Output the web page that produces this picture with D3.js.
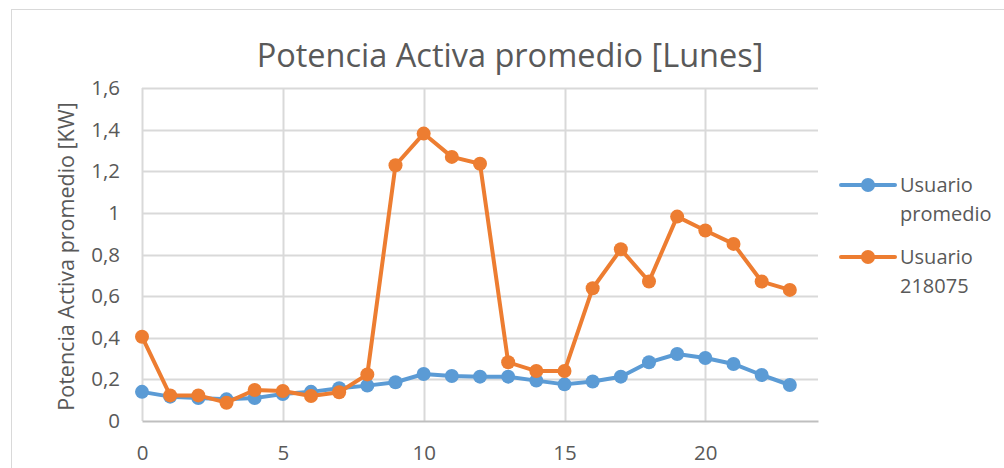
<!DOCTYPE html>
<html>
<head>
<meta charset="utf-8">
<script src="https://cdn.jsdelivr.net/npm/d3@7"></script>
<style>
  body { margin: 0; background: #fff; }
  text { font-family: "Open Sans", sans-serif; fill: #595959; }
</style>
</head>
<body>
<div id="chart"></div>
<script>
// hours of the day (0-23)
const hours = d3.range(0, 24);

const usuarioPromedio = [0.14, 0.117, 0.11, 0.104, 0.11, 0.13, 0.14, 0.157, 0.17, 0.186,
    0.226, 0.216, 0.213, 0.213, 0.194, 0.176, 0.19, 0.213, 0.282, 0.322,
    0.303, 0.274, 0.221, 0.173];

const usuario218075 = [0.405, 0.123, 0.123, 0.088, 0.149, 0.144, 0.12, 0.138, 0.224, 1.229,
    1.381, 1.269, 1.236, 0.282, 0.24, 0.24, 0.638, 0.825, 0.67, 0.982,
    0.915, 0.851, 0.67, 0.63];

const xTicks = [0, 5, 10, 15, 20];
const yTicks = [0, 0.2, 0.4, 0.6, 0.8, 1, 1.2, 1.4, 1.6];

const seriesList = [
    { name: ['Usuario', 'promedio'], values: usuarioPromedio, color: '#5B9BD5' },
    { name: ['Usuario', '218075'], values: usuario218075, color: '#ED7D31' }
];

const width = 1004, height = 468;
const plot = { left: 142, right: 818, top: 88, bottom: 421 };

const svg = d3.select('#chart').append('svg')
    .attr('width', width)
    .attr('height', height);

// chart frame
svg.append('rect')
    .attr('x', 11.5).attr('y', 9.5)
    .attr('width', 1100).attr('height', 600)
    .attr('fill', 'none')
    .attr('stroke', '#D9D9D9');

const x = d3.scaleLinear().domain([0, 24]).range([plot.left, plot.right]);
const y = d3.scaleLinear().domain([0, 1.6]).range([plot.bottom, plot.top]);

// gridlines
svg.append('g')
    .selectAll('line')
    .data(yTicks.filter(d => d > 0))
    .join('line')
    .attr('x1', plot.left).attr('x2', plot.right)
    .attr('y1', d => Math.round(y(d)) + 0.5).attr('y2', d => Math.round(y(d)) + 0.5)
    .attr('stroke', '#D9D9D9').attr('stroke-width', 2);

svg.append('g')
    .selectAll('line')
    .data(xTicks)
    .join('line')
    .attr('x1', d => Math.round(x(d)) + 0.5).attr('x2', d => Math.round(x(d)) + 0.5)
    .attr('y1', plot.top).attr('y2', plot.bottom)
    .attr('stroke', '#D9D9D9').attr('stroke-width', 2);

// x axis
const xAxis = svg.append('g')
    .attr('transform', `translate(0,${plot.bottom})`)
    .call(d3.axisBottom(x).tickValues(xTicks).tickSize(0).tickPadding(24));
xAxis.select('.domain').attr('stroke', '#BFBFBF').attr('stroke-width', 2);
xAxis.selectAll('text').style('font-size', '20.5px').attr('fill', '#595959');

// y axis
const yAxis = svg.append('g')
    .attr('transform', `translate(${plot.left},0)`)
    .call(d3.axisLeft(y).tickValues(yTicks).tickSize(0).tickPadding(22)
        .tickFormat(d => String(d).replace('.', ',')));
yAxis.select('.domain').remove();
yAxis.selectAll('text').style('font-size', '20.5px').attr('fill', '#595959');

// title
svg.append('text')
    .attr('x', 510).attr('y', 67)
    .attr('text-anchor', 'middle')
    .style('font-size', '32.5px')
    .text('Potencia Activa promedio [Lunes]');

// y label
svg.append('text')
    .attr('transform', `translate(74,${(plot.top + plot.bottom) / 2 + 2}) rotate(-90)`)
    .attr('text-anchor', 'middle')
    .style('font-size', '21.5px')
    .text('Potencia Activa promedio [KW]');

// series
const line = d3.line()
    .x((d, i) => x(hours[i]))
    .y(d => y(d));

seriesList.forEach(s => {
    const g = svg.append('g');
    g.append('path')
        .datum(s.values)
        .attr('d', line)
        .attr('fill', 'none')
        .attr('stroke', s.color)
        .attr('stroke-width', 4)
        .attr('stroke-linejoin', 'round');
    g.selectAll('circle')
        .data(s.values)
        .join('circle')
        .attr('cx', (d, i) => x(hours[i]))
        .attr('cy', d => y(d))
        .attr('r', 7)
        .attr('fill', s.color);
});

// legend
const legend = svg.append('g');
seriesList.forEach((s, i) => {
    const ly = 185 + i * 72;
    const item = legend.append('g').attr('transform', `translate(0,${ly})`);
    item.append('line')
        .attr('x1', 841).attr('x2', 895)
        .attr('stroke', s.color).attr('stroke-width', 4)
        .attr('stroke-linecap', 'round');
    item.append('circle')
        .attr('cx', 868).attr('r', 7)
        .attr('fill', s.color);
    item.append('text')
        .attr('x', 900).attr('y', 7)
        .style('font-size', '20px')
        .selectAll('tspan')
        .data(s.name)
        .join('tspan')
        .attr('x', 900)
        .attr('dy', (d, j) => j === 0 ? 0 : 29)
        .text(d => d);
});
</script>
</body>
</html>
